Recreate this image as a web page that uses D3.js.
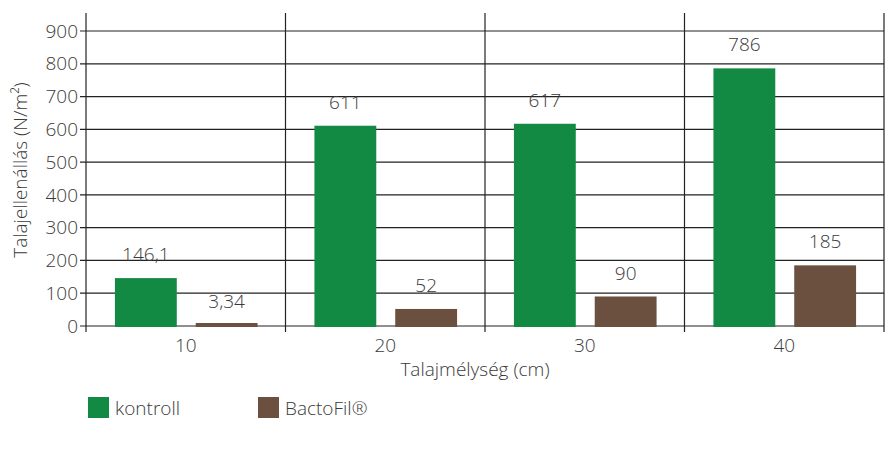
<!DOCTYPE html><html><head><meta charset="utf-8"><script src="https://cdn.jsdelivr.net/npm/d3@7"></script>
<style>body{margin:0;background:#fff}text{font-family:"Open Sans",sans-serif;fill:#3a3a3a;font-weight:300}</style></head><body><svg width="894" height="466"></svg>
<script>
const categories=["10","20","30","40"];
const kontroll=[146.1,611,617,786];
const bactofil=[3.34,52,90,185];
const kLabels=["146,1","611","617","786"];
const bLabels=["3,34","52","90","185"];
const yTicks=[0,100,200,300,400,500,600,700,800,900];
const svg=d3.select("svg");
const L=86,R=884,T=13,B=326,FS=19;
const x=d3.scaleBand().domain(categories).range([L,R]);
const y=d3.scaleLinear().domain([0,900]).range([B,31]);
const g=svg.append("g");
yTicks.forEach(t=>{g.append("line").attr("x1",L-6).attr("x2",R).attr("y1",y(t)).attr("y2",y(t)).attr("stroke","#222").attr("stroke-width",1.2);
g.append("text").attr("x",L-8).attr("y",y(t)).attr("dy","0.35em").attr("text-anchor","end").attr("font-size",FS).text(t);});
categories.forEach((c,i)=>{g.append("line").attr("x1",x(c)).attr("x2",x(c)).attr("y1",T).attr("y2",B+6).attr("stroke","#222").attr("stroke-width",1.2);});
g.append("line").attr("x1",R).attr("x2",R).attr("y1",T).attr("y2",B+6).attr("stroke","#222").attr("stroke-width",1.2);
const bw=x.bandwidth();
function bars(vals,labs,off,col){vals.forEach((v,i)=>{const x0=x(categories[i])+bw*off;
g.append("rect").attr("x",x0).attr("width",bw*0.31).attr("y",Math.min(y(v),B-3)).attr("height",Math.max(B-y(v),3)+1).attr("fill",col);
g.append("text").attr("x",x0+bw*0.155).attr("y",y(v)-17).attr("text-anchor","middle").attr("font-size",FS).text(labs[i]);});}
bars(kontroll,kLabels,0.145,"#138a43");
bars(bactofil,bLabels,0.55,"#6b5040");
categories.forEach(c=>g.append("text").attr("x",x(c)+bw/2).attr("y",352).attr("text-anchor","middle").attr("font-size",FS).text(c));
g.append("text").attr("x",475).attr("y",376).attr("text-anchor","middle").attr("font-size",FS).text("Talajmélység (cm)");
g.append("text").attr("transform","translate(27,170) rotate(-90)").attr("text-anchor","middle").attr("font-size",FS).text("Talajellenállás (N/m²)");
[["kontroll","#138a43",88],["BactoFil®","#6b5040",258]].forEach(([t,c,lx])=>{g.append("rect").attr("x",lx).attr("y",397).attr("width",21).attr("height",21).attr("fill",c);
g.append("text").attr("x",lx+27).attr("y",408).attr("dy","0.35em").attr("font-size",FS).text(t);});
</script></body></html>
